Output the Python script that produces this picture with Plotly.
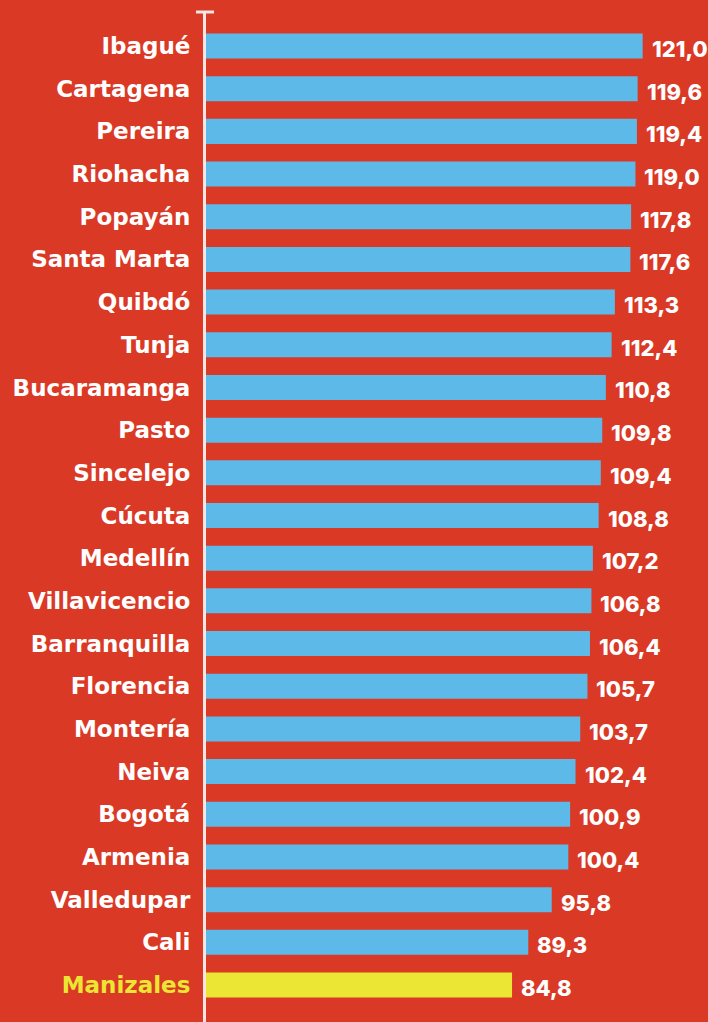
import plotly.graph_objects as go

cities = ["Ibagué", "Cartagena", "Pereira", "Riohacha", "Popayán", "Santa Marta", "Quibdó",
          "Tunja", "Bucaramanga", "Pasto", "Sincelejo", "Cúcuta", "Medellín", "Villavicencio",
          "Barranquilla", "Florencia", "Montería", "Neiva", "Bogotá", "Armenia", "Valledupar",
          "Cali", "Manizales"]
values = [121.0, 119.6, 119.4, 119.0, 117.8, 117.6, 113.3, 112.4, 110.8, 109.8, 109.4, 108.8,
          107.2, 106.8, 106.4, 105.7, 103.7, 102.4, 100.9, 100.4, 95.8, 89.3, 84.8]
highlight = "Manizales"

BG = "#DA3925"
BLUE = "#5DB9E7"
YELLOW = "#EAE633"
WHITE = "#FFFFFF"
NUM_FONT = "Inter"
CAT_FONT = "DejaVu Sans"

colors = [YELLOW if c == highlight else BLUE for c in cities]
ticktext = [f'<span style="color:{YELLOW}">{c}</span>' if c == highlight else c for c in cities]

fig = go.Figure(go.Bar(
    x=values, y=cities, orientation="h", marker=dict(color=colors, line=dict(width=0)),
    hoverinfo="skip",
))

for c, v in zip(cities, values):
    fig.add_annotation(x=v, y=c, text=f"{v:.1f}".replace(".", ","), showarrow=False,
                       xanchor="left", xshift=7, yshift=-3,
                       font=dict(family=NUM_FONT, size=22, color=WHITE, weight=800))

fig.add_shape(type="line", xref="paper", yref="paper", xsizemode="pixel", xanchor=0,
              x0=-10, x1=8, y0=1, y1=1, line=dict(color="#F6E6E3", width=3), layer="above")

fig.update_layout(
    width=708, height=1022, paper_bgcolor=BG, plot_bgcolor=BG,
    margin=dict(l=206, r=0, t=12, b=0),
    bargap=0.414, showlegend=False,
    xaxis=dict(range=[0, 139.1], showgrid=False, zeroline=False, showticklabels=False,
               showline=False, fixedrange=True),
    yaxis=dict(categoryorder="array", categoryarray=cities, range=[22.867, -0.797],
               tickmode="array", tickvals=cities, ticktext=ticktext,
               showgrid=False, zeroline=False, showline=True, linecolor="#F6E6E3", linewidth=3,
               ticks="outside", ticklen=8, tickcolor="rgba(0,0,0,0)",
               tickfont=dict(family=CAT_FONT, size=23, color=WHITE, weight=700)),
)

fig.write_html("out.html", config={"displayModeBar": False},
               post_script="document.body.style.margin='0';document.body.style.overflow='hidden';")
